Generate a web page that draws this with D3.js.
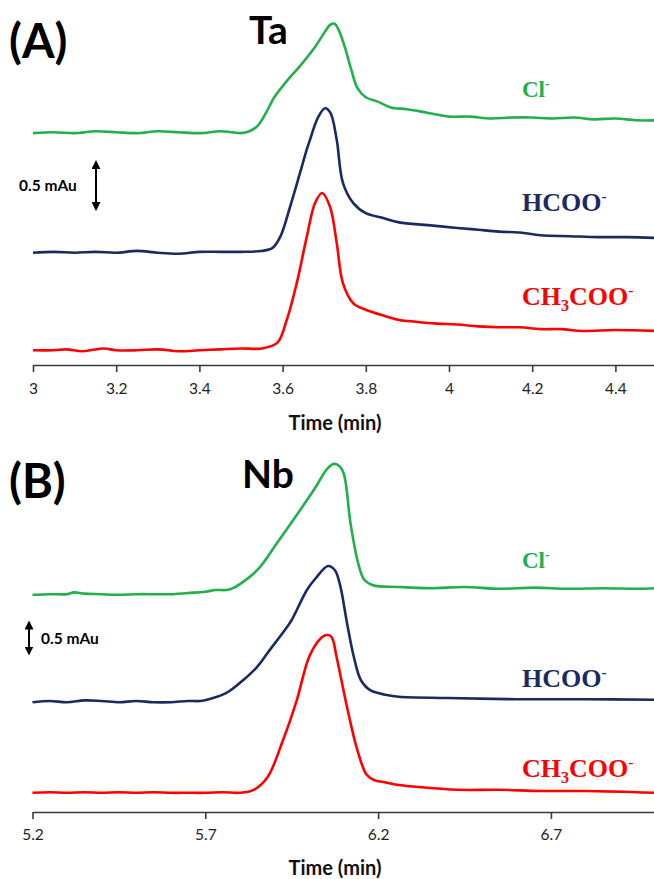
<!DOCTYPE html>
<html><head><meta charset="utf-8">
<script src="https://cdn.jsdelivr.net/npm/d3@7"></script>
<style>
html,body{margin:0;padding:0;background:#fff;}
svg{display:block;}
</style></head>
<body><svg id="chart" width="654" height="879"></svg>
<script>
// ---------------- DATA ----------------
// Panel A (Ta): time (min) and absorbance (mAU, stacked offsets included)
const timeA_Cl = [3.00,3.05,3.10,3.15,3.20,3.25,3.30,3.35,3.40,3.45,3.48,3.50,3.52,3.54,3.56,3.58,3.60,3.62,3.64,3.66,3.68,3.70,3.715,3.725,3.735,3.75,3.765,3.78,3.80,3.83,3.86,3.90,3.95,4.00,4.05,4.10,4.15,4.20,4.25,4.30,4.35,4.40,4.45,4.50];
const valA_Cl  = [2.52,2.53,2.52,2.54,2.53,2.52,2.54,2.53,2.52,2.54,2.53,2.52,2.54,2.60,2.74,2.91,3.03,3.14,3.24,3.35,3.47,3.61,3.70,3.71,3.64,3.45,3.21,3.01,2.91,2.86,2.80,2.78,2.74,2.70,2.70,2.68,2.69,2.69,2.68,2.69,2.67,2.68,2.66,2.66];

const timeA_HCOO = [3.00,3.05,3.10,3.15,3.20,3.25,3.30,3.35,3.40,3.45,3.50,3.55,3.575,3.594,3.618,3.642,3.658,3.666,3.685,3.702,3.715,3.73,3.745,3.77,3.80,3.84,3.88,3.95,4.02,4.07,4.12,4.17,4.22,4.29,4.36,4.43,4.50];
const valA_HCOO  = [1.22,1.23,1.22,1.23,1.22,1.24,1.22,1.21,1.23,1.23,1.23,1.24,1.27,1.39,1.72,2.09,2.34,2.45,2.69,2.79,2.74,2.45,1.98,1.76,1.65,1.60,1.55,1.52,1.49,1.47,1.45,1.44,1.41,1.40,1.39,1.39,1.38];

const timeA_Ac = [3.00,3.05,3.08,3.12,3.17,3.20,3.25,3.30,3.35,3.40,3.45,3.50,3.55,3.587,3.61,3.634,3.658,3.678,3.695,3.714,3.73,3.745,3.77,3.80,3.84,3.88,3.92,3.97,4.02,4.07,4.12,4.17,4.22,4.27,4.32,4.40,4.50];
const valA_Ac  = [0.16,0.16,0.17,0.15,0.18,0.16,0.16,0.17,0.15,0.16,0.17,0.18,0.18,0.24,0.49,0.89,1.39,1.76,1.87,1.72,1.33,0.89,0.67,0.60,0.54,0.49,0.47,0.45,0.44,0.42,0.41,0.41,0.39,0.39,0.37,0.38,0.37];

// Panel B (Nb)
const timeB_Cl = [5.20,5.25,5.30,5.32,5.35,5.40,5.45,5.50,5.55,5.60,5.65,5.70,5.73,5.76,5.78,5.85,5.907,5.974,6.02,6.05,6.07,6.085,6.10,6.12,6.14,6.16,6.185,6.26,6.35,6.45,6.55,6.65,6.75,6.85,6.95,7.00];
const valB_Cl  = [3.62,3.63,3.63,3.66,3.64,3.63,3.62,3.63,3.63,3.63,3.65,3.67,3.70,3.70,3.73,4.03,4.48,5.03,5.42,5.70,5.80,5.78,5.65,4.82,4.20,3.87,3.78,3.75,3.73,3.75,3.72,3.74,3.72,3.73,3.72,3.73];

const timeB_HCOO = [5.20,5.25,5.30,5.35,5.40,5.45,5.50,5.55,5.60,5.65,5.685,5.71,5.76,5.81,5.85,5.88,5.936,5.95,5.994,6.02,6.055,6.075,6.09,6.11,6.13,6.15,6.177,6.225,6.26,6.40,6.60,6.80,7.00];
const valB_HCOO  = [1.83,1.85,1.83,1.86,1.85,1.83,1.85,1.83,1.83,1.85,1.85,1.88,1.98,2.20,2.42,2.65,3.08,3.20,3.70,3.90,4.10,4.03,3.78,3.15,2.58,2.20,2.03,1.95,1.92,1.90,1.88,1.88,1.87];

const timeB_Ac = [5.20,5.25,5.30,5.35,5.40,5.45,5.50,5.55,5.60,5.65,5.70,5.75,5.80,5.84,5.88,5.925,5.965,6.00,6.03,6.05,6.065,6.08,6.11,6.14,6.167,6.19,6.215,6.26,6.31,6.43,6.55,6.67,6.80,7.00];
const valB_Ac  = [0.32,0.33,0.32,0.33,0.32,0.33,0.32,0.33,0.32,0.32,0.32,0.33,0.32,0.37,0.58,1.20,1.87,2.58,2.87,2.95,2.92,2.58,1.75,1.03,0.62,0.53,0.50,0.45,0.42,0.37,0.37,0.35,0.35,0.32];

const ticksA = [3,3.2,3.4,3.6,3.8,4,4.2,4.4];
const ticksB = [5.2,5.7,6.2,6.7];
const ionNames = ["Cl", "HCOO", "CH3COO"];
const ionColors = ["#22b04b", "#1b2a63", "#ff0000"];
const panelLabels = ["(A)", "(B)"];
const metalLabels = ["Ta", "Nb"];
const axisTitle = "Time (min)";
const scaleBarText = "0.5 mAu";
const scaleBarValue = 0.5;

// ---------------- DRAW ----------------
const svg = d3.select("#chart");
svg.append("rect").attr("width",654).attr("height",879).attr("fill","#fff");

const defs = svg.append("defs");
defs.append("clipPath").attr("id","clip").append("rect").attr("x",0).attr("y",0).attr("width",654).attr("height",879);
defs.append("marker").attr("id","ah").attr("viewBox","0 0 10 10").attr("refX",5).attr("refY",5)
  .attr("markerWidth",4.5).attr("markerHeight",4.5).attr("orient","auto-start-reverse")
  .append("path").attr("d","M0,0 L10,5 L0,10 Z").attr("fill","#000");

const panels = [
  {x: d3.scaleLinear().domain([3,4.5]).range([33,657]),
   y: d3.scaleLinear().domain([0,1]).range([365,273]),
   axisY: 365, ticks: ticksA, fmt: d3.format(".1~f"),
   series: [[timeA_Cl,valA_Cl],[timeA_HCOO,valA_HCOO],[timeA_Ac,valA_Ac]],
   labelY: [97, 211, 305], labelSize:[23,26,26],
   panelLabel: {x:9, y:58}, metal:{x:249, y:44},
   bar: {x:96, y0: 1.7, text:{x:19, y:191}},
   titleY: 430},
  {x: d3.scaleLinear().domain([5.2,7.0]).range([32.5,654.6]),
   y: d3.scaleLinear().domain([0,1]).range([812,752]),
   axisY: 812, ticks: ticksB, fmt: d3.format(".1f"),
   series: [[timeB_Cl,valB_Cl],[timeB_HCOO,valB_HCOO],[timeB_Ac,valB_Ac]],
   labelY: [568, 687, 777], labelSize:[23,26,26],
   panelLabel: {x:9, y:498}, metal:{x:242, y:488},
   bar: {x:29, y0: 2.65, text:{x:41, y:644}},
   titleY: 875}
];

panels.forEach((p, pi) => {
  const g = svg.append("g");
  // axis
  const ax = d3.axisBottom(p.x).tickValues(p.ticks).tickFormat(p.fmt)
    .tickSizeInner(7).tickSizeOuter(0).tickPadding(pi===0?11:10);
  const axg = g.append("g").attr("transform",`translate(0,${p.axisY})`).call(ax);
  axg.select(".domain").attr("stroke","#3a3a3a").attr("stroke-width",1.6);
  axg.selectAll(".tick line").attr("stroke","#3a3a3a").attr("stroke-width",1.6);
  axg.selectAll(".tick text").attr("font-family","Lato, 'Open Sans', sans-serif")
     .attr("font-size",15.5).attr("fill","#222");
  g.append("text").attr("x",335).attr("y",p.titleY)
    .attr("text-anchor","middle").attr("font-family","Lato, sans-serif")
    .attr("font-weight",700).attr("font-size",20).attr("fill","#111").text(axisTitle);

  // traces
  const line = d3.line().x(d=>p.x(d[0])).y(d=>p.y(d[1])).curve(d3.curveCatmullRom.alpha(0.5));
  p.series.forEach((s, si) => {
    const pts = s[0].map((t,i)=>[t, s[1][i]]);
    g.append("path").attr("d", line(pts)).attr("fill","none")
      .attr("stroke", ionColors[si]).attr("stroke-width",2.6)
      .attr("stroke-linejoin","round").attr("clip-path","url(#clip)");
  });

  // ion labels
  ionNames.forEach((name, si) => {
    const fs = p.labelSize[si];
    const t = g.append("text").attr("x", 522).attr("y", p.labelY[si])
      .attr("font-family","'Liberation Serif', 'Times New Roman', serif")
      .attr("font-weight",700).attr("font-size",fs).attr("fill",ionColors[si]);
    if (name === "CH3COO") {
      t.append("tspan").text("CH");
      t.append("tspan").attr("font-size",fs*0.62).attr("dy",fs*0.22).text("3");
      t.append("tspan").attr("dy",-fs*0.22).text("COO");
    } else {
      t.append("tspan").text(name);
    }
    t.append("tspan").attr("font-size",fs*0.6).attr("dy",-fs*0.38).text("-");
  });

  // panel label & metal
  g.append("text").attr("x",p.panelLabel.x).attr("y",p.panelLabel.y)
    .attr("font-family","Lato, sans-serif").attr("font-weight",700).attr("font-size",47)
    .attr("fill","#000").text(panelLabels[pi]);
  g.append("text").attr("x",p.metal.x).attr("y",p.metal.y)
    .attr("font-family","Lato, sans-serif").attr("font-weight",700).attr("font-size",39)
    .attr("fill","#000").text(metalLabels[pi]);

  // scale bar (0.5 mAU)
  const yTop = p.y(p.bar.y0 + scaleBarValue), yBot = p.y(p.bar.y0);
  g.append("line").attr("x1",p.bar.x).attr("x2",p.bar.x).attr("y1",yTop+2).attr("y2",yBot-2)
    .attr("stroke","#000").attr("stroke-width",2)
    .attr("marker-start","url(#ah)").attr("marker-end","url(#ah)");
  g.append("text").attr("x",p.bar.text.x).attr("y",p.bar.text.y)
    .attr("font-family","Lato, sans-serif").attr("font-weight",700).attr("font-size",15.5)
    .attr("fill","#000").text(scaleBarText);
});
</script>
</body></html>
